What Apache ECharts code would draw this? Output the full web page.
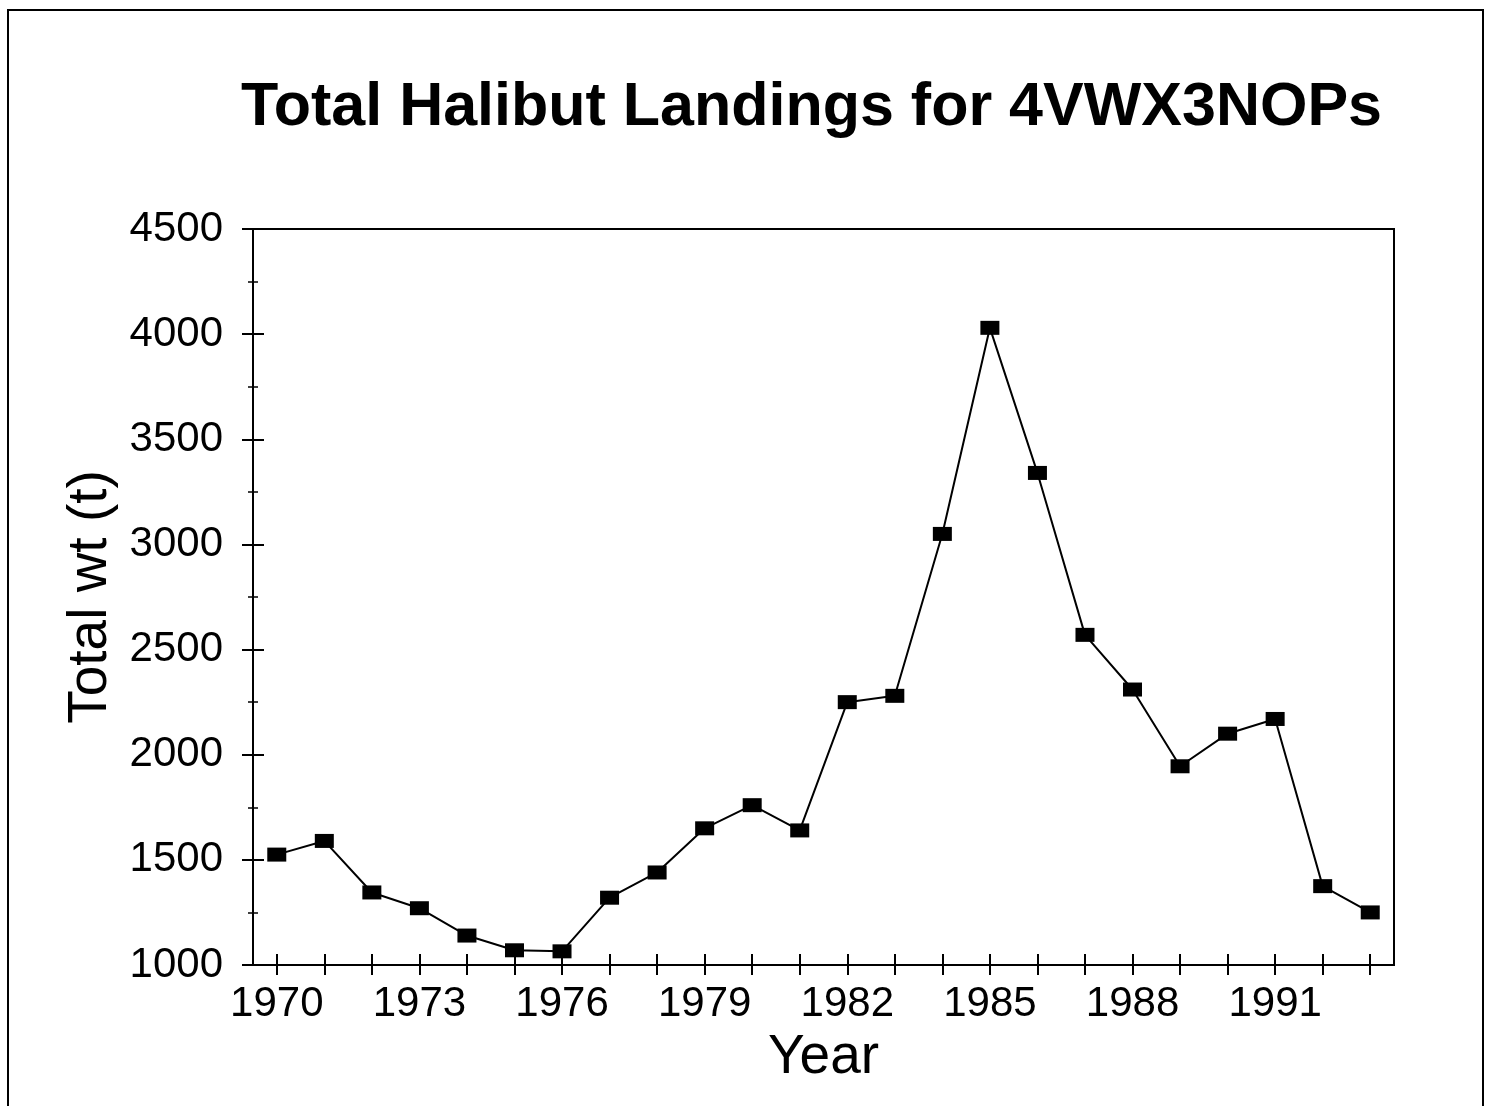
<!DOCTYPE html>
<html>
<head>
<meta charset="utf-8">
<title>Total Halibut Landings for 4VWX3NOPs</title>
<script src="https://cdn.jsdelivr.net/npm/echarts@6/dist/echarts.min.js"></script>
<style>
  html, body { margin: 0; padding: 0; background: #fff; }
  #chart { width: 1492px; height: 1106px; }
</style>
</head>
<body>
<div id="chart"></div>
<script>
// landings per year (t)
const years = ['1970', '1971', '1972', '1973', '1974', '1975', '1976', '1977', '1978', '1979', '1980', '1981',
  '1982', '1983', '1984', '1985', '1986', '1987', '1988', '1989', '1990', '1991', '1992', '1993']
const totalWt = [1525, 1590, 1345, 1270, 1140, 1070, 1065, 1320, 1440, 1650, 1760, 1640,
  2250, 2280, 3050, 4030, 3340, 2570, 2310, 1945, 2100, 2170, 1375, 1250]

const font = 'Liberation Sans, Arial, Helvetica, sans-serif'
const black = '#000'

const chart = echarts.init(document.getElementById('chart'))

// plot box in px
const W = 1492, H = 1106
const plotLeft = 253, plotTop = 229, plotRight = 98, plotBottom = 141
const plotW = W - plotLeft - plotRight
const plotH = H - plotTop - plotBottom

// ticks cross the axis lines: a second pair of axes sits on the opposite side,
// shifted back onto the bottom / left lines, so its outward ticks point into the plot
const xBase = {
  type: 'category',
  data: years,
  boundaryGap: true,
  splitLine: { show: false }
}
const yBase = {
  type: 'value',
  min: 1000,
  max: 4500,
  interval: 500,
  splitLine: { show: false }
}

const option = {
  backgroundColor: '#fff',
  animation: false,
  title: {
    text: 'Total Halibut Landings for 4VWX3NOPs',
    left: 236,
    top: 73,
    textStyle: { fontFamily: font, fontSize: 61, fontWeight: 'bold', color: black }
  },
  graphic: [{
    type: 'rect',
    shape: { x: 8, y: 10, width: 1475, height: 1110 },
    style: { fill: 'none', stroke: black, lineWidth: 2 },
    silent: true
  }],
  grid: {
    left: plotLeft,
    top: plotTop,
    right: plotRight,
    bottom: plotBottom,
    show: true,
    borderColor: black,
    borderWidth: 2
  },
  xAxis: [
    {
      ...xBase,
      position: 'bottom',
      name: 'Year',
      nameLocation: 'middle',
      nameGap: 64,
      nameTextStyle: { fontFamily: font, fontSize: 55, color: black },
      axisLine: { show: true, lineStyle: { color: black, width: 2 } },
      axisTick: { show: true, alignWithLabel: true, interval: 0, length: 10, lineStyle: { color: black, width: 2 } },
      axisLabel: { interval: 2, fontFamily: font, fontSize: 42, color: black, margin: 18 }
    },
    {
      ...xBase,
      position: 'top',
      offset: -plotH,
      axisLine: { show: false },
      axisTick: { show: true, alignWithLabel: true, interval: 0, length: 11, lineStyle: { color: black, width: 2 } },
      axisLabel: { show: false }
    }
  ],
  yAxis: [
    {
      ...yBase,
      position: 'left',
      name: 'Total wt (t)',
      nameLocation: 'middle',
      nameGap: 120,
      nameTextStyle: { fontFamily: font, fontSize: 55, color: black },
      axisLine: { show: true, lineStyle: { color: black, width: 2 } },
      axisTick: { show: true, length: 11, lineStyle: { color: black, width: 2 } },
      minorTick: { show: true, splitNumber: 2, length: 5, lineStyle: { color: black, width: 1.5 } },
      axisLabel: { fontFamily: font, fontSize: 42, color: black, margin: 30, formatter: v => String(v) }
    },
    {
      ...yBase,
      position: 'right',
      offset: -plotW,
      axisLine: { show: false },
      axisTick: { show: true, length: 11, lineStyle: { color: black, width: 2 } },
      minorTick: { show: true, splitNumber: 2, length: 5, lineStyle: { color: black, width: 1.5 } },
      axisLabel: { show: false }
    }
  ],
  series: [{
    name: 'Total wt',
    type: 'line',
    xAxisIndex: 0,
    yAxisIndex: 0,
    data: totalWt,
    symbol: 'rect',
    symbolSize: [19, 14],
    showSymbol: true,
    itemStyle: { color: black },
    lineStyle: { color: black, width: 2 }
  }]
}

chart.setOption(option)
</script>
</body>
</html>
